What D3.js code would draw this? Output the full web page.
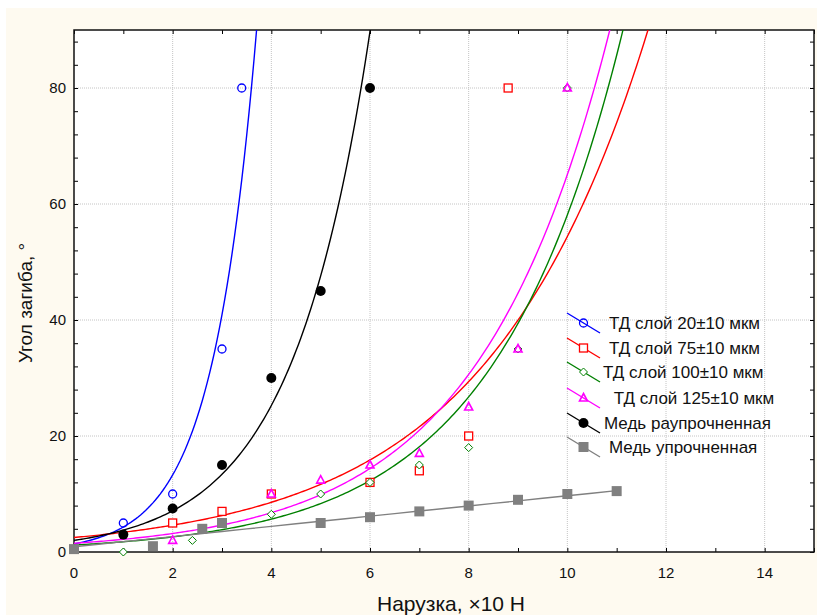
<!DOCTYPE html>
<html>
<head>
<meta charset="utf-8">
<script src="https://cdn.jsdelivr.net/npm/d3@7"></script>
<style>
  body { margin: 0; background: #fff; }
  svg text { font-family: Arial, "Liberation Sans", sans-serif; fill: #111; }
</style>
</head>
<body>
<div id="chart"></div>
<script>
// data
var blueX = [1, 2, 3, 3.4];
var blueY = [5, 10, 35, 80];
var redX = [2, 3, 4, 6, 7, 8, 8.8];
var redY = [5, 7, 10, 12, 14, 20, 80];
var greenX = [1, 2.4, 4, 5, 6, 7, 8, 9, 10];
var greenY = [0, 2, 6.5, 10, 12, 15, 18, 35, 80];
var magentaX = [2, 4, 5, 6, 7, 8, 9, 10];
var magentaY = [2, 10, 12.4, 15, 17, 25, 35, 80];
var blackX = [1, 2, 3, 4, 5, 6];
var blackY = [3, 7.5, 15, 30, 45, 80];
var grayX = [0, 1.6, 2.6, 3, 5, 6, 7, 8, 9, 10, 11];
var grayY = [0.5, 1, 4, 5, 5, 6, 7, 8, 9, 10, 10.5];

// fitted curves: y = a*exp(b*x), gray one is linear y = a + b*x
var blueFit = [1.4, 1.125];
var redFit = [2.5, 0.308];
var greenFit = [1.2, 0.388];
var magentaFit = [1.5, 0.377];
var blackFit = [2.0, 0.634];
var grayFit = [0.9, 0.88];

var legendLabels = ["ТД слой 20±10 мкм", "ТД слой 75±10 мкм", "ТД слой 100±10 мкм",
    " ТД слой 125±10 мкм", "Медь раупрочненная", "Медь упрочненная"];
var xTicks = [0, 2, 4, 6, 8, 10, 12, 14];
var yTicks = [0, 20, 40, 60, 80];

var width = 817, height = 615;
var margin = { top: 30, right: 2, bottom: 63, left: 74 };

var svg = d3.select("#chart").append("svg")
    .attr("width", width)
    .attr("height", height);

// cream panel
svg.append("rect")
    .attr("x", 6).attr("y", 8)
    .attr("width", width - 6).attr("height", height - 8)
    .attr("fill", "#fefaf0");

var x = d3.scaleLinear().domain([0, 15]).range([margin.left, width - margin.right - 1]);
var y = d3.scaleLinear().domain([0, 90]).range([height - margin.bottom, margin.top]);

svg.append("rect")
    .attr("x", x(0)).attr("y", y(90))
    .attr("width", x(15) - x(0)).attr("height", y(0) - y(90))
    .attr("fill", "#fff");

svg.append("clipPath").attr("id", "clip")
    .append("rect")
    .attr("x", x(0)).attr("y", y(90))
    .attr("width", x(15) - x(0)).attr("height", y(0) - y(90));

// grid
var grid = svg.append("g").attr("stroke", "#c4c4c4").attr("stroke-dasharray", "1,1");
grid.selectAll(".vg").data(xTicks.filter(d => d > 0)).enter().append("line")
    .attr("x1", d => x(d)).attr("x2", d => x(d))
    .attr("y1", y(0)).attr("y2", y(90));
grid.selectAll(".hg").data(yTicks.filter(d => d > 0)).enter().append("line")
    .attr("x1", x(0)).attr("x2", x(15))
    .attr("y1", d => y(d)).attr("y2", d => y(d));

// axes, ticks pointing inward
var minorX = d3.range(0, 16, 1);
var minorY = d3.range(0, 90, 4);
svg.append("g").attr("transform", "translate(0," + y(0) + ")")
    .call(d3.axisTop(x).tickValues(minorX).tickSize(4).tickFormat(""))
    .call(g => g.select(".domain").remove());
svg.append("g").attr("transform", "translate(0," + y(90) + ")")
    .call(d3.axisBottom(x).tickValues(minorX).tickSize(4).tickFormat(""))
    .call(g => g.select(".domain").remove());
svg.append("g").attr("transform", "translate(" + x(0) + ",0)")
    .call(d3.axisRight(y).tickValues(minorY).tickSize(4).tickFormat(""))
    .call(g => g.select(".domain").remove());
svg.append("g").attr("transform", "translate(" + x(15) + ",0)")
    .call(d3.axisLeft(y).tickValues(minorY).tickSize(4).tickFormat(""))
    .call(g => g.select(".domain").remove());

svg.append("rect")
    .attr("x", x(0)).attr("y", y(90))
    .attr("width", x(15) - x(0)).attr("height", y(0) - y(90))
    .attr("fill", "none").attr("stroke", "#111").attr("stroke-width", 1.5);

// tick labels
svg.selectAll(".xl").data(xTicks).enter().append("text")
    .attr("x", d => x(d)).attr("y", y(0) + 26)
    .attr("text-anchor", "middle").attr("font-size", 15)
    .text(d => d);
svg.selectAll(".yl").data(yTicks).enter().append("text")
    .attr("x", x(0) - 8).attr("y", d => y(d) + 5)
    .attr("text-anchor", "end").attr("font-size", 15)
    .text(d => d);

// axis titles
svg.append("text")
    .attr("x", 451).attr("y", 611)
    .attr("text-anchor", "middle").attr("font-size", 21)
    .text("Нарузка, ×10 Н");
svg.append("text")
    .attr("transform", "translate(32,303) rotate(-90)")
    .attr("text-anchor", "middle").attr("font-size", 19)
    .text("Угол загиба, °");

var series = [
    { xs: blueX, ys: blueY, fit: blueFit, color: "#0000ff", marker: "circle", kind: "exp" },
    { xs: redX, ys: redY, fit: redFit, color: "#ff0000", marker: "square", kind: "exp" },
    { xs: greenX, ys: greenY, fit: greenFit, color: "#008000", marker: "diamond", kind: "exp" },
    { xs: magentaX, ys: magentaY, fit: magentaFit, color: "#ff00ff", marker: "triangle", kind: "exp" },
    { xs: blackX, ys: blackY, fit: blackFit, color: "#000000", marker: "dot", kind: "exp" },
    { xs: grayX, ys: grayY, fit: grayFit, color: "#808080", marker: "block", kind: "lin" }
];

function drawMarker(g, type, color, cx, cy) {
    if (type == "circle") {
        g.append("circle").attr("cx", cx).attr("cy", cy).attr("r", 4)
            .attr("fill", "none").attr("stroke", color).attr("stroke-width", 1.3);
    } else if (type == "square") {
        g.append("rect").attr("x", cx - 4).attr("y", cy - 4).attr("width", 8).attr("height", 8)
            .attr("fill", "#fff").attr("stroke", color).attr("stroke-width", 1.3);
    } else if (type == "diamond") {
        g.append("path").attr("d", "M" + cx + "," + (cy - 4) + "L" + (cx + 4) + "," + cy +
            "L" + cx + "," + (cy + 4) + "L" + (cx - 4) + "," + cy + "Z")
            .attr("fill", "#fff").attr("stroke", color).attr("stroke-width", 1);
    } else if (type == "triangle") {
        g.append("path").attr("d", "M" + cx + "," + (cy - 4.5) + "L" + (cx + 4) + "," + (cy + 3) +
            "L" + (cx - 4) + "," + (cy + 3) + "Z")
            .attr("fill", "none").attr("stroke", color).attr("stroke-width", 1.6);
    } else if (type == "dot") {
        g.append("circle").attr("cx", cx).attr("cy", cy).attr("r", 5).attr("fill", color);
    } else {
        g.append("rect").attr("x", cx - 5).attr("y", cy - 5).attr("width", 10).attr("height", 10)
            .attr("fill", color);
    }
}

var line = d3.line().x(d => x(d[0])).y(d => y(d[1]));
var plot = svg.append("g").attr("clip-path", "url(#clip)");

series.forEach(function (s) {
    var pts;
    if (s.kind == "exp") {
        pts = d3.range(0, 15.01, 0.05).map(t => [t, s.fit[0] * Math.exp(s.fit[1] * t)]);
    } else {
        pts = d3.range(0, 11.01, 0.5).map(t => [t, s.fit[0] + s.fit[1] * t]);
    }
    plot.append("path").datum(pts)
        .attr("d", line).attr("fill", "none")
        .attr("stroke", s.color).attr("stroke-width", 1.4);
});

series.forEach(function (s) {
    var g = svg.append("g");
    s.xs.forEach(function (d, i) {
        drawMarker(g, s.marker, s.color, x(d), y(s.ys[i]));
    });
});

// legend
var rowY = [323, 348, 372, 398, 423, 447];
var textX = [609, 609, 603, 609, 604, 609];
var legend = svg.append("g");
series.forEach(function (s, i) {
    legend.append("line")
        .attr("x1", 567).attr("y1", rowY[i] - 10)
        .attr("x2", 600).attr("y2", rowY[i] + 10)
        .attr("stroke", s.color).attr("stroke-width", 1.4);
    drawMarker(legend, s.marker, s.color, 583.5, rowY[i]);
    legend.append("text")
        .attr("x", textX[i]).attr("y", rowY[i] + 6)
        .attr("font-size", 17)
        .style("white-space", "pre")
        .text(legendLabels[i]);
});
</script>
</body>
</html>
